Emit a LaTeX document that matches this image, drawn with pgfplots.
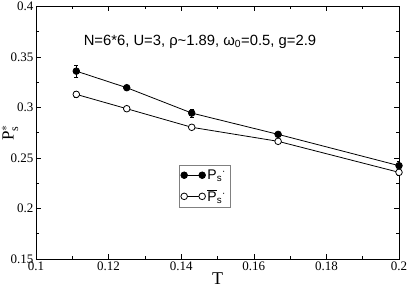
\documentclass[border=0pt]{standalone}
\usepackage{fontspec}
\setmainfont{Liberation Serif}
\newfontfamily\sans{Liberation Sans}
\usepackage{pgfplots}
\pgfplotsset{compat=1.18}
\begin{document}
\begin{tikzpicture}
\begin{axis}[
  scale only axis, width=363pt, height=252.5pt,
  xmin=0.1, xmax=0.2, ymin=0.15, ymax=0.4,
  xtick={0.1,0.12,0.14,0.16,0.18,0.2},
  ytick={0.15,0.2,0.25,0.3,0.35,0.4},
  minor x tick num=1, minor y tick num=1,
  tick align=inside, ticks=both,
  major tick length=5pt, minor tick length=3pt,
  tick style={black, line width=0.6pt},
  axis line style={line width=0.8pt},
  /pgf/number format/assume math mode=true,
  /pgf/number format/fixed,
  xticklabel style={font=\fontsize{13}{14}\selectfont, yshift=1pt},
  yticklabel style={font=\fontsize{13}{14}\selectfont, xshift=1pt},
  scaled ticks=false,
  xlabel={T}, ylabel={P$_{\mathrm{s}}^{*}$},
  xlabel style={font=\fontsize{18}{20}\selectfont, yshift=5pt},
  every axis y label/.style={at={(axis description cs:0,0.5)}, xshift=-26pt, rotate=90, anchor=center, font=\fontsize{17}{20}\selectfont},
  legend style={at={(axis cs:0.1464,0.222)}, anchor=center, draw=gray, line width=0.6pt,
     font=\sans\fontsize{14}{16}\selectfont, inner sep=2pt, row sep=5pt,
     cells={anchor=west}},
  legend image code/.code={\draw[mark repeat=2,mark phase=1,#1] plot coordinates {(0pt,0pt) (9pt,0pt) (18pt,0pt)};},
  every axis plot/.append style={line width=0.8pt},
  error bars/error bar style={line width=0.5pt},
  error bars/error mark options={rotate=90, mark size=2pt, line width=0.5pt},
]
\addplot[black, mark=*, mark size=3.3pt, mark options={fill=black},
  error bars/.cd, y dir=both, y explicit] coordinates {
  (0.1111,0.336) +- (0,0.006)
  (0.125,0.3196) +- (0,0.002)
  (0.1429,0.2945) +- (0,0.004)
  (0.1667,0.2734) +- (0,0.002)
  (0.2,0.2424) +- (0,0.004)
};
\addlegendentry{P\textsubscript{s}\textsuperscript{·}}
\addplot[black, mark=*, mark size=3.3pt, mark options={fill=white},
  error bars/.cd, y dir=both, y explicit] coordinates {
  (0.1111,0.313) +- (0,0.003)
  (0.125,0.2988) +- (0,0.0015)
  (0.1429,0.2804) +- (0,0.0015)
  (0.1667,0.2665) +- (0,0.0015)
  (0.2,0.2358) +- (0,0.003)
};
\addlegendentry{$\overline{\mbox{\sans P}}$\textsubscript{s}\textsuperscript{·}}
\node[anchor=west, font=\sans\fontsize{14.8}{16}\selectfont, inner sep=0pt] at (axis cs:0.1131,0.3654) {N=6*6, U=3, ρ\textasciitilde1.89, ω\textsubscript{0}=0.5, g=2.9};
\end{axis}
\pgfresetboundingbox
\path (current axis.south west) ++(-36pt,-34pt) coordinate (a);
\path (current axis.north east) ++(10pt,6.5pt) coordinate (b);
\useasboundingbox (a) rectangle (b);
\end{tikzpicture}
\end{document}
